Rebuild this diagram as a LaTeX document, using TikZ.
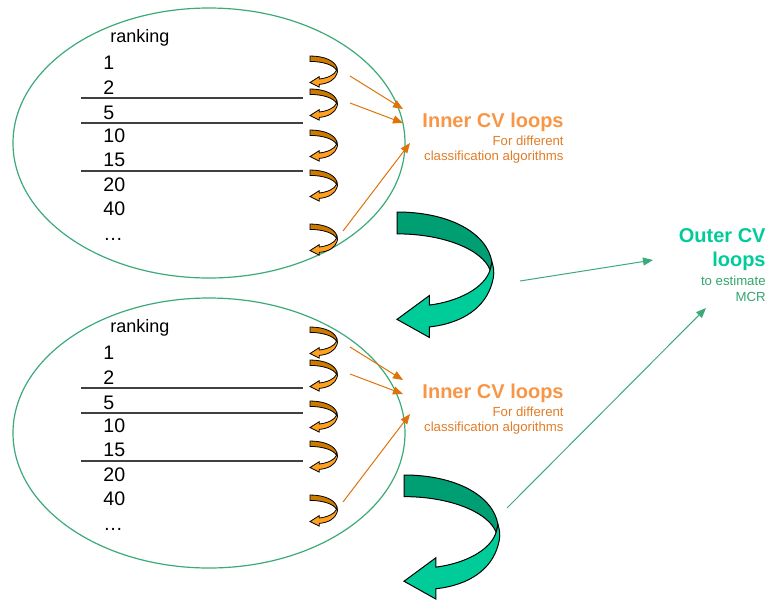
\documentclass[tikz,border=0pt]{standalone}
\usepackage{fontspec}
\setmainfont{Liberation Sans}
\usepackage{tikz}
\usetikzlibrary{arrows.meta}

\definecolor{ellgreen}{RGB}{60,170,120}
\definecolor{darkteal}{RGB}{0,158,115}
\definecolor{lightteal}{RGB}{0,204,153}
\definecolor{darkorange}{RGB}{204,122,0}
\definecolor{lightorange}{RGB}{255,160,30}
\definecolor{lineorange}{RGB}{222,115,10}
\definecolor{titleorange}{RGB}{247,150,70}
\definecolor{smallorange}{RGB}{225,125,40}
\definecolor{smallgreen}{RGB}{50,165,110}

% u-turn arrow: back band (#1) and front band with head (#2)
\tikzset{
  pics/uturn/.style 2 args={code={
    \filldraw[fill=#1] (0,0) .. controls (0.55,0) and (0.95,0.22) .. (1,0.53)
      -- (0.98,0.61) .. controls (0.9,0.4) and (0.5,0.23) .. (0,0.23) -- cycle;
    \filldraw[fill=#2] (1,0.53) .. controls (1.03,0.62) and (1.02,0.68) .. (1,0.75)
      .. controls (0.93,1.0) and (0.7,1.17) .. (0.34,1.21) -- (0.34,1.32) -- (0,1.13)
      -- (0.34,0.88) -- (0.34,0.98) .. controls (0.65,0.94) and (0.92,0.8) .. (0.98,0.61) -- cycle;
  }}
}

\begin{document}
\begin{tikzpicture}[x=0.5pt,y=-0.5pt,
  every node/.style={inner sep=0pt,font=\fontsize{9}{11}\selectfont},
  rank/.style={anchor=base west},
  num/.style={anchor=base west,font=\fontsize{9.8}{12}\selectfont},
  sepline/.style={line width=0.7pt,black!75},
  small/.style={xscale=27,yscale=23.5,line width=0.4pt},
  big/.style={line width=0.5pt},
  title/.style={anchor=base east,font=\bfseries\fontsize{10}{12}\selectfont},
  note/.style={anchor=base east,font=\fontsize{6.6}{8}\selectfont},
  feed/.style={lineorange,line width=0.5pt,-{Triangle[length=5pt,width=4pt]}},
  outer/.style={ellgreen,line width=0.5pt,-{Triangle[length=5pt,width=4pt]}}]

  \useasboundingbox (0,0) rectangle (771,601);

  % Specification of the two ranking ellipses
  \foreach \b/\dy/\da in {1/0/0, 2/290/271} {
    \draw[ellgreen,line width=0.6pt] (209,{143+\dy}) ellipse [x radius=98pt, y radius=67.5pt];
    \node[rank] (rk\b) at (110,{42+\dy}) {ranking};
    \foreach \n/\y [count=\i] in {1/69.5, 2/94.5, 5/119.5, 10/142.5, 15/166.5, 20/191.5, 40/215.5, …/240}
      \node[num] (r\b n\i) at (103,{\y+\dy}) {\n};
    \foreach \y in {98, 123, 171}
      \draw[sepline] (81,{\y+\dy}) -- (303,{\y+\dy});

    % small loops
    \foreach \y in {56, 89, 130, 170, 224}
      \pic[small] at (310,{\y+\da}) {uturn={darkorange}{lightorange}};

    % labels
    \node[title,titleorange] (in\b) at (564,{127+\da}) {Inner CV loops};
    \node[note,smallorange] (for\b) at (564,{145+\da}) {For different};
    \node[note,smallorange] (cls\b) at (564,{160+\da}) {classification algorithms};

    \coordinate (fa\b) at (350,{76+\da});
    \coordinate (fb\b) at (350,{103+\da});
    \coordinate (fc\b) at (343,{231+\da});
    \coordinate (ta\b) at (403,{109+\da});
    \coordinate (tb\b) at (403,{123+\da});
    \coordinate (tc\b) at (410,{143+\da});
    \draw[feed] (fa\b) -- (ta\b);
    \draw[feed] (fb\b) -- (tb\b);
    \draw[feed] (fc\b) -- (tc\b);
  }

  % big outer loops
  \pic[big,xscale=95,yscale=95] at (397,212) {uturn={darkteal}{lightteal}};
  \pic[big,xscale=94,yscale=94] at (404,475) {uturn={darkteal}{lightteal}};

  \node[title,lightteal] (oc) at (766,242) {Outer CV};
  \node[title,lightteal] (ol) at (766,266) {loops};
  \node[note,smallgreen] (oe) at (766,285) {to estimate};
  \node[note,smallgreen] (om) at (766,301) {MCR};

  \coordinate (g1s) at (520,281);
  \coordinate (g1e) at (653,260);
  \coordinate (g2s) at (507,508);
  \coordinate (g2e) at (706,308);
  \draw[outer] (g1s) -- (g1e);
  \draw[outer] (g2s) -- (g2e);

\end{tikzpicture}
\end{document}
